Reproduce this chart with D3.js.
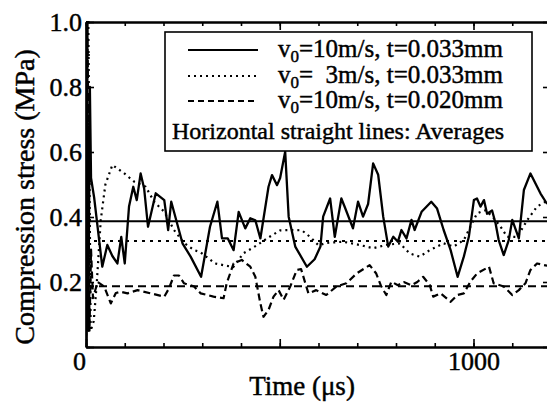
<html>
<head>
<meta charset="utf-8">
<script src="https://d3js.org/d3.v7.min.js"></script>
<style>
  body { margin: 0; background: #fff; }
  text { font-family: "Liberation Serif", "Times New Roman", serif; fill: #000; stroke: #000; stroke-width: 0.45px; }
</style>
</head>
<body>
<div id="chart"></div>
<script>
// series: v0=10m/s, t=0.033mm (solid)
const timeA = [0,2,6,10,13,21,42,55,68,81,91,100,111,122,131,141,150,160,180,202,212,220,249,270,297,320,339,351,366,381,394,411,424,437,450,471,480,493,501,514,523,540,570,590,605,612,630,642,659,668,689,702,715,728,741,754,767,780,793,805,814,827,840,848,866,891,906,923,941,959,975,988,1001,1009,1018,1027,1035,1048,1057,1065,1078,1091,1100,1117,1130,1147,1173,1190];
const stressA = [0,1.0,0.05,0.8,0.52,0.46,0.247,0.314,0.28,0.257,0.339,0.257,0.432,0.493,0.452,0.534,0.488,0.37,0.473,0.452,0.36,0.447,0.319,0.278,0.216,0.37,0.447,0.334,0.334,0.298,0.416,0.365,0.396,0.39,0.334,0.493,0.529,0.498,0.52,0.601,0.401,0.309,0.247,0.27,0.309,0.401,0.457,0.339,0.457,0.43,0.365,0.447,0.401,0.44,0.565,0.53,0.401,0.309,0.339,0.324,0.36,0.334,0.391,0.36,0.416,0.447,0.426,0.36,0.298,0.216,0.278,0.339,0.452,0.457,0.432,0.452,0.41,0.42,0.38,0.329,0.283,0.329,0.391,0.334,0.483,0.534,0.472,0.44];

// series: v0=3m/s, t=0.033mm (dotted)
const timeB = [0,6,12,20,28,38,50,68,98,124,154,176,202,227,253,279,295,333,380,406,441,467,501,530,557,579,600,620,663,706,741,775,810,835,861,887,923,949,975,992,1009,1031,1050,1070,1087,1113,1139,1164,1190];
const stressB = [0,1.0,0.05,0.08,0.2,0.39,0.5,0.56,0.535,0.509,0.493,0.447,0.416,0.36,0.32,0.298,0.292,0.257,0.246,0.288,0.313,0.334,0.359,0.36,0.359,0.338,0.313,0.32,0.324,0.314,0.304,0.314,0.319,0.288,0.278,0.298,0.319,0.309,0.329,0.37,0.411,0.421,0.4,0.37,0.339,0.339,0.391,0.432,0.45];

// series: v0=10m/s, t=0.020mm (dashed)
const timeC = [0,4,9,13,18,30,47,64,77,90,107,133,167,202,214,227,240,253,279,296,329,355,363,381,402,424,437,450,458,471,484,497,510,527,544,555,566,574,594,620,646,672,698,732,749,762,775,788,805,820,840,855,870,887,896,915,941,958,975,992,1009,1040,1052,1078,1100,1117,1134,1147,1164,1190];
const stressC = [0,1.0,0.05,0.3,0.15,0.2,0.186,0.134,0.166,0.17,0.165,0.175,0.165,0.155,0.18,0.22,0.22,0.196,0.186,0.165,0.155,0.15,0.196,0.257,0.268,0.247,0.216,0.134,0.093,0.114,0.155,0.175,0.145,0.186,0.237,0.24,0.196,0.165,0.175,0.16,0.186,0.196,0.226,0.252,0.226,0.186,0.16,0.201,0.19,0.2,0.19,0.2,0.216,0.191,0.155,0.165,0.139,0.16,0.165,0.201,0.226,0.247,0.196,0.186,0.16,0.175,0.196,0.237,0.257,0.25];

// averages (horizontal straight lines)
const averages = [0.387, 0.326, 0.187];

const legendLabels = [
  ["v", "0", "=10m/s, t=0.033mm"],
  ["v", "0", "=  3m/s, t=0.033mm"],
  ["v", "0", "=10m/s, t=0.020mm"]
];
const legendNote = "Horizontal straight lines: Averages";
const xTickLabels = [0, 1000];
const yTickLabels = [0.2, 0.4, 0.6, 0.8, 1.0];

const dashes = [null, "2,4", "7,4"];

const width = 547, height = 407;
const margin = {top: 22, left: 86, bottom: 60, right: -4};

const x = d3.scaleLinear().domain([0, 1200]).range([margin.left, width - margin.right]);
const y = d3.scaleLinear().domain([0, 1]).range([height - margin.bottom, margin.top]);

const svg = d3.select('#chart').append('svg')
    .attr('width', width)
    .attr('height', height);

svg.append('rect').attr('width', width).attr('height', height).attr('fill', '#fff');

svg.append('clipPath').attr('id', 'clip')
  .append('rect')
    .attr('x', x(0)).attr('y', y(1) - 1)
    .attr('width', x(1200) - x(0)).attr('height', y(0) - y(1) + 1);

const plot = svg.append('g').attr('clip-path', 'url(#clip)');

// average lines
averages.forEach((a, i) => {
  plot.append('line')
      .attr('x1', x(0)).attr('x2', x(1200))
      .attr('y1', y(a)).attr('y2', y(a))
      .attr('stroke', '#000')
      .attr('stroke-width', i === 0 ? 1.8 : 2)
      .attr('stroke-dasharray', i === 0 ? null : (i === 1 ? "3,5" : "8,5"));
});

const line = d3.line().x(d => x(d[0])).y(d => y(d[1]));

[[timeA, stressA], [timeB, stressB], [timeC, stressC]].forEach(([t, v], i) => {
  plot.append('path')
      .datum(t.map((d, j) => [d, v[j]]))
      .attr('d', line)
      .attr('fill', 'none')
      .attr('stroke', '#000')
      .attr('stroke-width', i === 0 ? 2.3 : 2.2)
      .attr('stroke-linejoin', 'round')
      .attr('stroke-dasharray', dashes[i]);
});

// axes, ticks point inward
function addAxis(axisFn, scale, transform, majors, minors, labels, big, small) {
  const g1 = svg.append('g').attr('transform', transform)
      .call(axisFn(scale).tickValues(minors).tickSizeInner(-small).tickSizeOuter(0).tickFormat(''));
  const g2 = svg.append('g').attr('transform', transform)
      .call(axisFn(scale).tickValues(majors).tickSizeInner(-big).tickSizeOuter(0)
        .tickPadding(5)
        .tickFormat(d => labels.includes(d) ? (scale === y ? d3.format('.1f')(d) : d) : ''));
  [g1, g2].forEach(g => {
    g.selectAll('line').attr('stroke', '#000').attr('stroke-width', 1.6);
    g.select('.domain').attr('stroke', '#000').attr('stroke-width', 2.2);
  });
  g2.selectAll('text').attr('font-size', 26).attr('font-family', '"Liberation Serif", serif');
  return g2;
}

const xMinor = d3.range(0, 1201, 100);
const xMajor = [0, 500, 1000];
const yMinor = d3.range(0, 11).map(d => d / 10);
const yMajor = d3.range(0, 6).map(d => d / 5);

const gx = addAxis(d3.axisBottom, x, `translate(0,${y(0)})`, xMajor, xMinor, xTickLabels, 8, 4);
gx.selectAll('text').filter(d => d === 0).attr('dx', -7);
addAxis(d3.axisTop, x, `translate(0,${y(1)})`, xMajor, xMinor, [], 8, 4);
const gy = addAxis(d3.axisLeft, y, `translate(${x(0)},0)`, yMajor, yMinor, yTickLabels, 8, 4);
gy.selectAll('text').attr('x', -4);
addAxis(d3.axisRight, y, `translate(${x(1200)},0)`, yMajor, yMinor, [], 8, 4);

// axis titles
svg.append('text')
    .attr('transform', `translate(34,197) rotate(-90)`)
    .attr('text-anchor', 'middle')
    .attr('font-size', 28)
    .text('Compression stress (MPa)');

svg.append('text')
    .attr('x', 302).attr('y', 395)
    .attr('text-anchor', 'middle')
    .attr('font-size', 27)
    .text('Time (\u03bcs)');

// legend
const legend = svg.append('g');
legend.append('rect')
    .attr('x', 165).attr('y', 32).attr('width', 367).attr('height', 119)
    .attr('fill', '#fff').attr('stroke', '#000').attr('stroke-width', 1.6);

const rowY = [50, 76, 101];
legendLabels.forEach((lab, i) => {
  legend.append('line')
      .attr('x1', 188).attr('x2', 258)
      .attr('y1', rowY[i]).attr('y2', rowY[i])
      .attr('stroke', '#000').attr('stroke-width', i === 0 ? 2 : 1.8)
      .attr('stroke-dasharray', i === 0 ? null : (i === 1 ? "2,4" : "6,4"));
  const t = legend.append('text')
      .attr('x', 278).attr('y', rowY[i] + 7)
      .attr('font-size', 25)
      .style('white-space', 'pre');
  t.append('tspan').text(lab[0]);
  t.append('tspan').attr('font-size', 17).attr('dy', 5).text(lab[1]);
  t.append('tspan').attr('dy', -5).text(lab[2]);
});

legend.append('text')
    .attr('x', 172).attr('y', 139)
    .attr('font-size', 24)
    .text(legendNote);
</script>
</body>
</html>
